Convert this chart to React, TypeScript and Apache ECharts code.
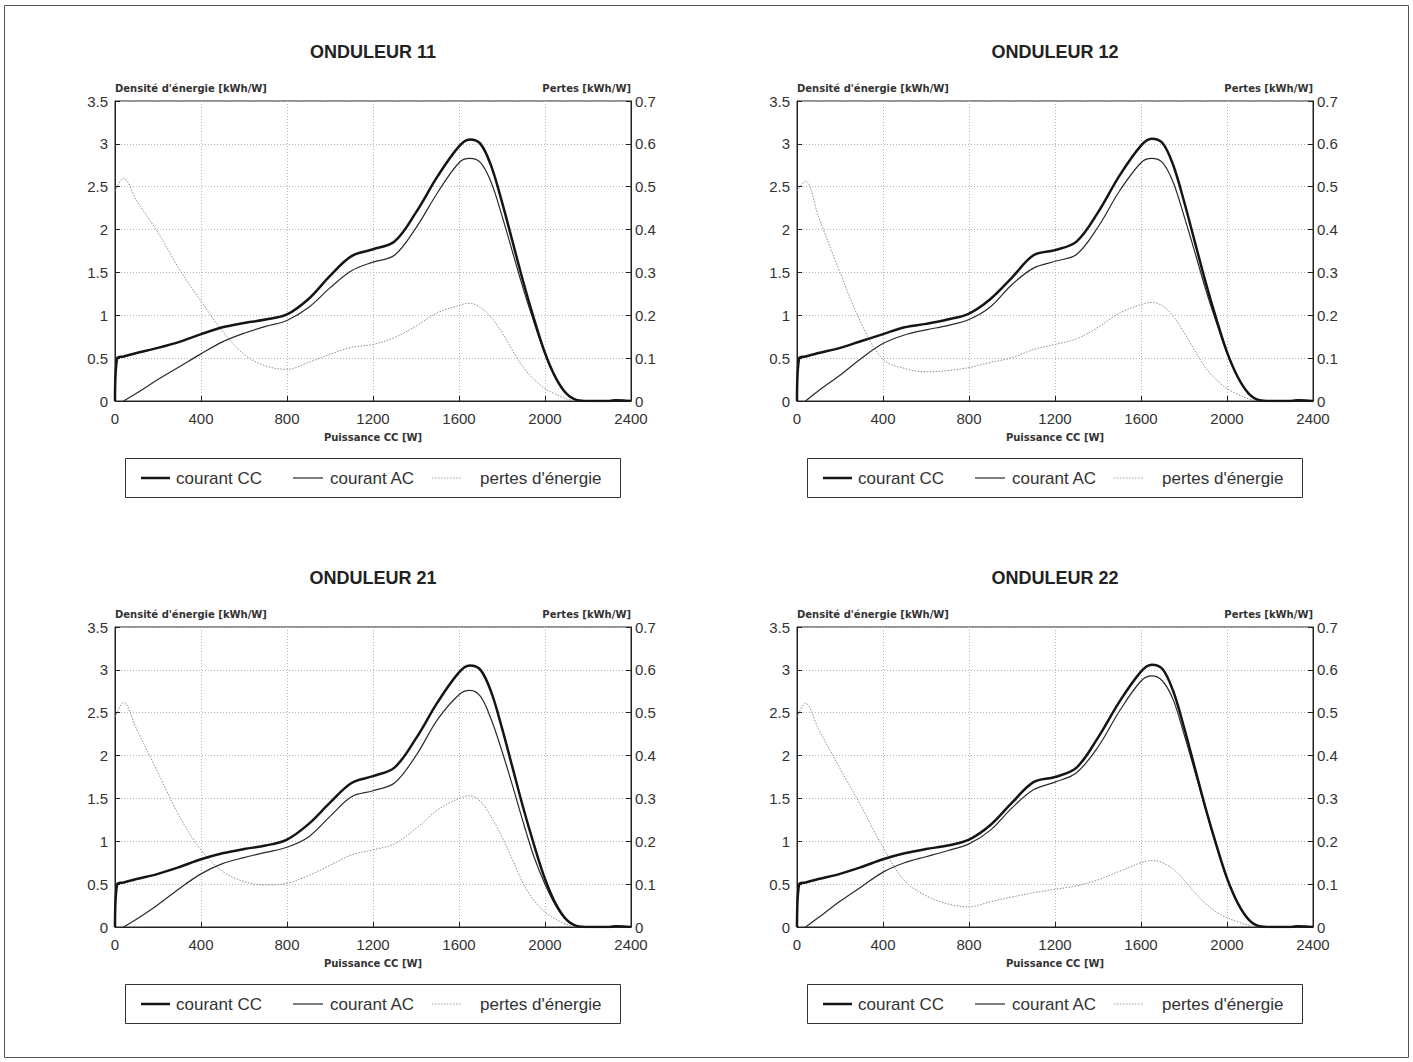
import React, { useEffect, useRef } from "react";
import * as echarts from "echarts";

// Puissance CC [W] sample positions
const X = [0, 10, 40, 100, 200, 300, 400, 500, 600, 700, 800, 900, 1000, 1100, 1200, 1300, 1400, 1500, 1600, 1650, 1700, 1750, 1800, 1850, 1900, 1950, 2000, 2050, 2100, 2150, 2200, 2300, 2330, 2400];

// ONDULEUR 11
const cc11 = [0, 0.50, 0.52, 0.56, 0.62, 0.69, 0.78, 0.86, 0.91, 0.95, 1.01, 1.19, 1.46, 1.69, 1.77, 1.86, 2.20, 2.62, 2.97, 3.05, 3.00, 2.74, 2.32, 1.85, 1.38, 0.95, 0.56, 0.27, 0.085, 0.01, 0, 0, 0.01, 0];
const ac11 = [null, null, 0, 0.09, 0.25, 0.40, 0.55, 0.69, 0.79, 0.87, 0.94, 1.09, 1.32, 1.52, 1.62, 1.70, 2.02, 2.43, 2.78, 2.83, 2.78, 2.55, 2.16, 1.73, 1.30, 0.91, 0.55, 0.27, 0.085, 0.01, 0, 0, 0.01, 0];
const loss11 = [0.49, null, 0.52, 0.468, 0.393, 0.307, 0.233, 0.163, 0.109, 0.082, 0.074, 0.09, 0.109, 0.125, 0.132, 0.148, 0.175, 0.206, 0.223, 0.228, 0.218, 0.195, 0.16, 0.117, 0.078, 0.05, 0.029, 0.016, 0.005, 0, 0, 0, 0, 0];

// ONDULEUR 12
const cc12 = [0, 0.50, 0.52, 0.56, 0.62, 0.70, 0.78, 0.86, 0.90, 0.95, 1.02, 1.19, 1.44, 1.70, 1.76, 1.86, 2.20, 2.63, 2.98, 3.06, 3.01, 2.75, 2.33, 1.86, 1.39, 0.96, 0.57, 0.28, 0.09, 0.01, 0, 0, 0.01, 0];
const ac12 = [null, null, 0, 0.12, 0.30, 0.50, 0.67, 0.77, 0.83, 0.88, 0.95, 1.10, 1.36, 1.55, 1.63, 1.71, 2.03, 2.45, 2.78, 2.83, 2.78, 2.55, 2.16, 1.74, 1.31, 0.92, 0.56, 0.28, 0.09, 0.01, 0, 0, 0.01, 0];
const loss12 = [0.49, null, 0.513, 0.43, 0.30, 0.18, 0.097, 0.076, 0.068, 0.071, 0.078, 0.09, 0.101, 0.12, 0.132, 0.145, 0.172, 0.205, 0.225, 0.23, 0.222, 0.198, 0.16, 0.118, 0.078, 0.05, 0.029, 0.016, 0.005, 0, 0, 0, 0, 0];

// ONDULEUR 21
const cc21 = [0, 0.50, 0.52, 0.56, 0.62, 0.70, 0.79, 0.86, 0.91, 0.95, 1.02, 1.20, 1.45, 1.68, 1.76, 1.86, 2.20, 2.62, 2.97, 3.05, 3.00, 2.74, 2.32, 1.85, 1.38, 0.95, 0.56, 0.27, 0.085, 0.01, 0, 0, 0.01, 0];
const ac21 = [null, null, 0, 0.09, 0.26, 0.45, 0.62, 0.74, 0.81, 0.87, 0.93, 1.05, 1.29, 1.52, 1.59, 1.68, 2.00, 2.42, 2.71, 2.76, 2.69, 2.42, 2.05, 1.64, 1.21, 0.81, 0.50, 0.25, 0.08, 0.01, 0, 0, 0.01, 0];
const loss21 = [0.49, null, 0.524, 0.462, 0.36, 0.258, 0.18, 0.13, 0.106, 0.098, 0.102, 0.12, 0.144, 0.168, 0.18, 0.194, 0.23, 0.273, 0.30, 0.306, 0.293, 0.257, 0.21, 0.156, 0.10, 0.061, 0.035, 0.018, 0.006, 0, 0, 0, 0, 0];

// ONDULEUR 22
const cc22 = [0, 0.50, 0.52, 0.56, 0.62, 0.70, 0.79, 0.86, 0.91, 0.95, 1.02, 1.19, 1.45, 1.69, 1.75, 1.86, 2.21, 2.63, 2.98, 3.06, 3.01, 2.75, 2.33, 1.86, 1.39, 0.96, 0.57, 0.28, 0.09, 0.01, 0, 0, 0.01, 0];
const ac22 = [null, null, 0, 0.11, 0.30, 0.47, 0.64, 0.75, 0.82, 0.89, 0.97, 1.13, 1.39, 1.60, 1.69, 1.80, 2.10, 2.52, 2.87, 2.93, 2.87, 2.65, 2.25, 1.82, 1.38, 0.95, 0.56, 0.27, 0.085, 0.01, 0, 0, 0.01, 0];
const loss22 = [0.49, null, 0.522, 0.462, 0.37, 0.28, 0.186, 0.108, 0.073, 0.054, 0.047, 0.059, 0.07, 0.08, 0.088, 0.096, 0.11, 0.13, 0.15, 0.155, 0.15, 0.135, 0.11, 0.08, 0.055, 0.035, 0.022, 0.012, 0.004, 0, 0, 0, 0, 0];

const titles = ["ONDULEUR 11", "ONDULEUR 12", "ONDULEUR 21", "ONDULEUR 22"];
const legendNames = ["courant CC", "courant AC", "pertes d'énergie"];
const leftAxisName = "Densité d'énergie [kWh/W]";
const rightAxisName = "Pertes [kWh/W]";
const xAxisName = "Puissance CC [W]";

const panels = [
  { cc: cc11, ac: ac11, loss: loss11 },
  { cc: cc12, ac: ac12, loss: loss12 },
  { cc: cc21, ac: ac21, loss: loss21 },
  { cc: cc22, ac: ac22, loss: loss22 },
];

const LAYOUT = [
  { left: 115, top: 101 },
  { left: 797, top: 101 },
  { left: 115, top: 627 },
  { left: 797, top: 627 },
];
const GW = 516;
const GH = 300;

const TICK_FONT = "Liberation Sans";
const SMALL_FONT = '"DejaVu Sans"';

export default function App() {
  const ref = useRef<HTMLDivElement>(null);

  useEffect(() => {
    if (!ref.current) return;
    const chart = echarts.init(ref.current, null, { renderer: "svg" });

    const grids: any[] = [];
    const xAxes: any[] = [];
    const yAxes: any[] = [];
    const series: any[] = [];
    const graphics: any[] = [];

    const toPairs = (arr: (number | null)[]) => X.map((x, i) => [x, arr[i]]);
    const plain = (v: number) => String(Math.round(v * 1000) / 1000);

    panels.forEach((p, i) => {
      const L = LAYOUT[i];
      grids.push({
        left: L.left,
        top: L.top,
        width: GW,
        height: GH,
        show: true,
        borderColor: "#222",
        borderWidth: 1,
        backgroundColor: "transparent",
      });
      xAxes.push({
        type: "value",
        gridIndex: i,
        min: 0,
        max: 2400,
        interval: 400,
        axisLine: { show: true, lineStyle: { color: "#222", width: 1 } },
        axisTick: { show: true, inside: true, length: 5, lineStyle: { color: "#222" } },
        axisLabel: { color: "#333", fontSize: 15, fontFamily: TICK_FONT, margin: 10, formatter: plain },
        splitLine: { show: true, lineStyle: { color: "#b5b5b5", type: [1, 2], width: 1 } },
      });
      yAxes.push({
        type: "value",
        gridIndex: i,
        position: "left",
        min: 0,
        max: 3.5,
        interval: 0.5,
        axisLine: { show: true, onZero: false, lineStyle: { color: "#222", width: 1 } },
        axisTick: { show: true, inside: true, length: 5, lineStyle: { color: "#222" } },
        axisLabel: { color: "#333", fontSize: 15, fontFamily: TICK_FONT, margin: 7, formatter: plain },
        splitLine: { show: true, lineStyle: { color: "#b5b5b5", type: [1, 2], width: 1 } },
      });
      yAxes.push({
        type: "value",
        gridIndex: i,
        position: "right",
        min: 0,
        max: 0.7,
        interval: 0.1,
        axisLine: { show: true, onZero: false, lineStyle: { color: "#222", width: 1 } },
        axisTick: { show: true, inside: true, length: 5, lineStyle: { color: "#222" } },
        axisLabel: { color: "#333", fontSize: 15, fontFamily: TICK_FONT, margin: 4, formatter: plain },
        splitLine: { show: false },
      });

      series.push({
        name: legendNames[2],
        type: "line",
        xAxisIndex: i,
        yAxisIndex: 2 * i + 1,
        data: toPairs(p.loss),
        connectNulls: true,
        showSymbol: false,
        symbol: "none",
        smooth: 0.35,
        lineStyle: { color: "#8c8c8c", width: 1, type: [1.5, 1.5] },
        z: 2,
      });
      series.push({
        name: legendNames[1],
        type: "line",
        xAxisIndex: i,
        yAxisIndex: 2 * i,
        data: toPairs(p.ac),
        showSymbol: false,
        symbol: "none",
        smooth: 0.35,
        lineStyle: { color: "#2a2a2a", width: 1.2 },
        z: 3,
      });
      series.push({
        name: legendNames[0],
        type: "line",
        xAxisIndex: i,
        yAxisIndex: 2 * i,
        data: toPairs(p.cc),
        showSymbol: false,
        symbol: "none",
        smooth: 0.35,
        lineStyle: { color: "#151515", width: 2.5 },
        z: 4,
      });

      const dx = L.left - 115;
      const dy = L.top - 101;
      const cx = L.left + GW / 2;

      // title
      graphics.push({
        type: "text",
        x: cx,
        y: 52 + dy,
        style: {
          text: titles[i],
          font: 'bold 18px "Liberation Sans"',
          fill: "#222",
          align: "center",
          verticalAlign: "middle",
          textAlign: "center",
          textVerticalAlign: "middle",
        },
      });
      // axis names
      graphics.push({
        type: "text",
        x: L.left,
        y: 88 + dy,
        style: {
          text: leftAxisName,
          font: `bold 10px ${SMALL_FONT}`,
          fill: "#333",
          align: "left",
          verticalAlign: "middle",
          textAlign: "left",
          textVerticalAlign: "middle",
        },
      });
      graphics.push({
        type: "text",
        x: L.left + GW,
        y: 88 + dy,
        style: {
          text: rightAxisName,
          font: `bold 10px ${SMALL_FONT}`,
          fill: "#333",
          align: "right",
          verticalAlign: "middle",
          textAlign: "right",
          textVerticalAlign: "middle",
        },
      });
      graphics.push({
        type: "text",
        x: cx,
        y: 437 + dy,
        style: {
          text: xAxisName,
          font: `bold 10px ${SMALL_FONT}`,
          fill: "#333",
          align: "center",
          verticalAlign: "middle",
          textAlign: "center",
          textVerticalAlign: "middle",
        },
      });

      // legend box
      const lx = 125 + dx;
      const ly = 458 + dy;
      const my = ly + 20;
      graphics.push({
        type: "rect",
        shape: { x: lx + 0.5, y: ly + 0.5, width: 495, height: 39 },
        style: { fill: "none", stroke: "#333", lineWidth: 1 },
      });
      const items = [
        { x1: 141, x2: 170, tx: 176, style: { stroke: "#151515", lineWidth: 2.5 } },
        { x1: 293, x2: 323, tx: 330, style: { stroke: "#2a2a2a", lineWidth: 1.2 } },
        { x1: 432, x2: 461, tx: 480, style: { stroke: "#a0a0a0", lineWidth: 1, lineDash: [1.5, 1.5] } },
      ];
      items.forEach((it, k) => {
        graphics.push({
          type: "line",
          shape: { x1: it.x1 + dx, y1: my, x2: it.x2 + dx, y2: my },
          style: it.style,
        });
        graphics.push({
          type: "text",
          x: it.tx + dx,
          y: my,
          style: {
            text: legendNames[k],
            font: '17px "Liberation Sans"',
            fill: "#333",
            align: "left",
            verticalAlign: "middle",
            textAlign: "left",
            textVerticalAlign: "middle",
          },
        });
      });
    });

    // outer frame
    graphics.push({
      type: "rect",
      shape: { x: 4.5, y: 5.5, width: 1404, height: 1052 },
      style: { fill: "none", stroke: "#555", lineWidth: 1 },
    });

    chart.setOption({
      animation: false,
      backgroundColor: "#fff",
      grid: grids,
      xAxis: xAxes,
      yAxis: yAxes,
      series,
      graphic: { elements: graphics },
    });

    return () => chart.dispose();
  }, []);

  return (
    <div
      ref={ref}
      style={{ position: "fixed", left: 0, top: 0, width: 1413, height: 1062, background: "#fff" }}
    />
  );
}
